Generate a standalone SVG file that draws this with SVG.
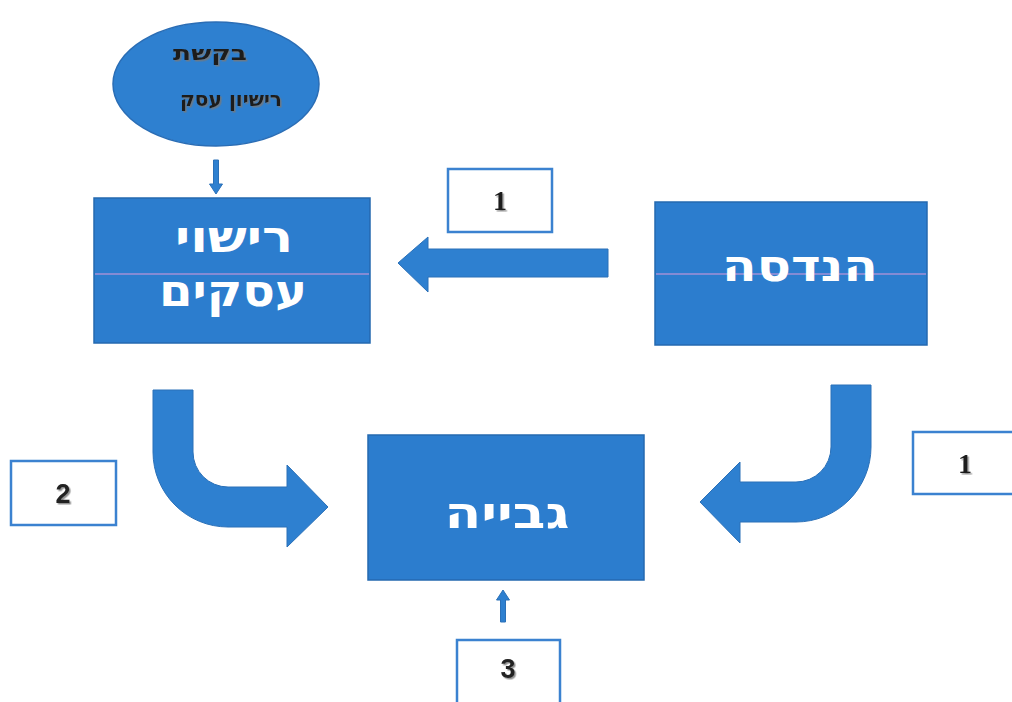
<svg xmlns="http://www.w3.org/2000/svg" width="1012" height="702" viewBox="0 0 1012 702">
<style>
.box{fill:#2c7dce;stroke:#2569b0;stroke-width:1.5}
.lbl{fill:#ffffff;stroke:#3b82d0;stroke-width:2.5}
.arrow{fill:#2e80d0;stroke:#2a70b8;stroke-width:1}
.heb{font-family:"DejaVu Sans","Liberation Sans",sans-serif;font-weight:bold;fill:#ffffff;text-anchor:middle;font-size:44px}
.small{font-family:"DejaVu Sans","Liberation Sans",sans-serif;font-weight:bold;fill:#1c1c1c;text-anchor:middle;font-size:21px}
.num{font-family:"Liberation Serif",serif;font-weight:bold;fill:#1a1a1a;text-anchor:middle;font-size:28px}
.num2{font-family:"Liberation Sans",sans-serif;font-weight:bold;fill:#222222;text-anchor:middle;font-size:27px}
.scan{stroke:#9a8fd6;stroke-width:2;opacity:0.8}
</style>
<defs>
<filter id="sh" x="-10%" y="-10%" width="130%" height="130%">
<feDropShadow dx="1.5" dy="1.5" stdDeviation="0.6" flood-color="#777777" flood-opacity="0.8"/>
</filter>
</defs>
<rect width="1012" height="702" fill="#ffffff"/>

<g id="connectors">
<path class="arrow" d="M213.5,160 H218.5 V184 H222.5 L216,194 L209.5,184 H213.5 Z"/>
<path class="arrow" d="M608,249 V277 H428 V292 L398,263 L428,237 V249 Z"/>
<path class="arrow" d="M153,390 H193 V452 A35,35 0 0 0 228,487 H287 V465 L328,507 L287,547 V527 H228 A75,75 0 0 1 153,452 Z"/>
<path class="arrow" d="M831,385 H871 V447 A75,75 0 0 1 796,522 H740 V543 L700,502 L740,462 V482 H796 A35,35 0 0 0 831,447 Z"/>
<path class="arrow" d="M500.5,622 H505.5 V600 H509.5 L503,590 L496.5,600 H500.5 Z"/>
</g>

<g id="request">
<ellipse cx="216" cy="84" rx="103" ry="62" fill="#2e80d0" stroke="#2a6db5" stroke-width="1.5"/>
<text class="small" x="210" y="60" textLength="74" lengthAdjust="spacingAndGlyphs" filter="url(#sh)">בקשת</text>
<text class="small" x="231" y="106" textLength="102" lengthAdjust="spacingAndGlyphs" filter="url(#sh)">רישיון עסק</text>
</g>

<g id="licensing">
<rect class="box" x="94" y="198" width="276" height="145"/>
<line class="scan" x1="95" y1="274" x2="369" y2="274"/>
<text class="heb" x="234" y="252" textLength="118" lengthAdjust="spacingAndGlyphs">רישוי</text>
<text class="heb" x="233" y="306" textLength="148" lengthAdjust="spacingAndGlyphs">עסקים</text>
</g>

<g id="engineering">
<rect class="box" x="655" y="202" width="272" height="143"/>
<line class="scan" x1="656" y1="274" x2="926" y2="274"/>
<text class="heb" x="800" y="281" textLength="156" lengthAdjust="spacingAndGlyphs">הנדסה</text>
</g>

<g id="collection">
<rect class="box" x="368" y="435" width="276" height="145"/>
<text class="heb" x="507" y="528" textLength="125" lengthAdjust="spacingAndGlyphs">גבייה</text>
</g>

<g id="label-top-1">
<rect class="lbl" x="448" y="169" width="104" height="63"/>
<text class="num" x="500" y="210" filter="url(#sh)">1</text>
</g>

<g id="label-2">
<rect class="lbl" x="11" y="461" width="105" height="64"/>
<text class="num2" x="63" y="503" filter="url(#sh)">2</text>
</g>

<g id="label-right-1">
<rect class="lbl" x="913" y="432" width="110" height="62"/>
<text class="num" x="965" y="473" filter="url(#sh)">1</text>
</g>

<g id="label-3">
<rect class="lbl" x="457" y="640" width="103" height="70"/>
<text class="num2" x="508" y="678" filter="url(#sh)">3</text>
</g>
</svg>
